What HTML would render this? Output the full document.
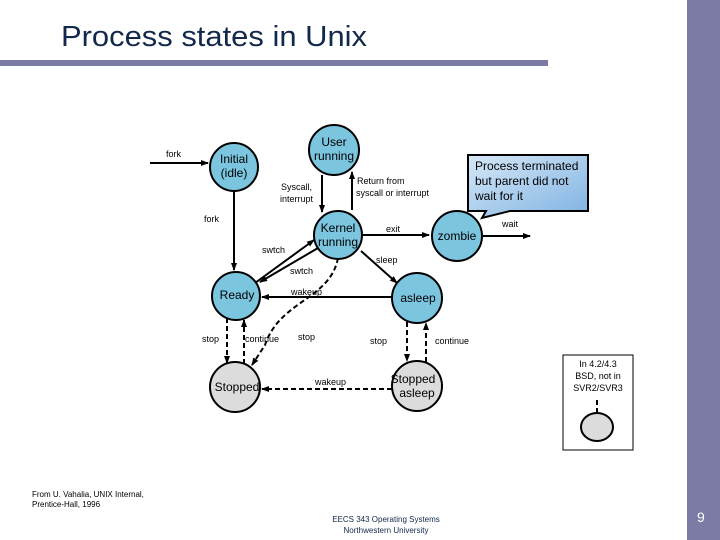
<!DOCTYPE html>
<html><head><meta charset="utf-8"><style>
html,body{margin:0;padding:0;background:#fff;width:720px;height:540px;overflow:hidden}
svg{display:block}
text{font-family:"Liberation Sans",sans-serif}
</style></head><body>
<svg width="720" height="540" viewBox="0 0 720 540">
<defs>
<marker id="a" markerWidth="8" markerHeight="8" refX="7" refY="4" orient="auto" markerUnits="userSpaceOnUse"><path d="M0,1 L8,4 L0,7 z" fill="#000"/></marker>
<linearGradient id="g" x1="0" y1="0" x2="1" y2="1"><stop offset="0" stop-color="#d6e8f7"/><stop offset="1" stop-color="#7fb2e2"/></linearGradient>
</defs>
<rect x="687" y="0" width="33" height="540" fill="#7b7ba6"/>
<rect x="0" y="60" width="548" height="6" fill="#7b7ba6"/>
<text x="61" y="46" font-size="29" fill="#13294b" font-family="DejaVu Sans Condensed, Liberation Sans, sans-serif" textLength="306" lengthAdjust="spacingAndGlyphs">Process states in Unix</text>
<text x="697" y="522" font-size="14" fill="#fff">9</text>
<text x="32" y="497" font-size="8" fill="#000">From U. Vahalia, UNIX Internal,</text>
<text x="32" y="507" font-size="8" fill="#000">Prentice-Hall, 1996</text>
<text x="386" y="522" font-size="8" fill="#13294b" text-anchor="middle">EECS 343 Operating Systems</text>
<text x="386" y="533" font-size="8" fill="#13294b" text-anchor="middle">Northwestern University</text>

<g stroke="#000" stroke-width="2" fill="none">
<line x1="150" y1="163" x2="208" y2="163" marker-end="url(#a)"/>
<line x1="234" y1="191" x2="234" y2="270" marker-end="url(#a)"/>
<line x1="322" y1="175" x2="322" y2="212" marker-end="url(#a)"/>
<line x1="352" y1="210" x2="352" y2="172" marker-end="url(#a)"/>
<line x1="255" y1="283" x2="314" y2="240" marker-end="url(#a)"/>
<line x1="318" y1="248" x2="260" y2="282" marker-end="url(#a)"/>
<line x1="362" y1="235" x2="429" y2="235" marker-end="url(#a)"/>
<line x1="483" y1="236" x2="530" y2="236" marker-end="url(#a)"/>
<line x1="361" y1="251" x2="397" y2="283" marker-end="url(#a)"/>
<line x1="392" y1="297" x2="262" y2="297" marker-end="url(#a)"/>
</g>
<g stroke="#000" stroke-width="2" fill="none" stroke-dasharray="5,3">
<path d="M338,258 C330,300 280,300 265,345 L252,365" marker-end="url(#a)"/>
<line x1="227" y1="318" x2="227" y2="363" marker-end="url(#a)"/>
<line x1="244" y1="364" x2="244" y2="320" marker-end="url(#a)"/>
<line x1="407" y1="322" x2="407" y2="361" marker-end="url(#a)"/>
<line x1="426" y1="362" x2="426" y2="323" marker-end="url(#a)"/>
<line x1="392" y1="389" x2="262" y2="389" marker-end="url(#a)"/>
<line x1="597" y1="400" x2="597" y2="412"/>
</g>
<g stroke="#000" stroke-width="2" fill="#7cc5df">
<circle cx="234" cy="167" r="24"/>
<circle cx="334" cy="150" r="25"/>
<circle cx="338" cy="235" r="24"/>
<circle cx="457" cy="236" r="25"/>
<circle cx="236" cy="296" r="24"/>
<circle cx="417" cy="298" r="25"/>
</g>
<g stroke="#000" stroke-width="2" fill="#dcdcdc">
<circle cx="235" cy="387" r="25"/>
<circle cx="417" cy="386" r="25"/>
<ellipse cx="597" cy="427" rx="16" ry="14"/>
</g>
<rect x="563" y="355" width="70" height="95" fill="none" stroke="#000" stroke-width="1"/>
<path d="M468,155 H588 V211 H510 L482,218 L486,211 H468 Z" fill="url(#g)" stroke="#000" stroke-width="2"/>

<g font-size="12" fill="#000" text-anchor="middle">
<text x="234" y="163">Initial</text><text x="234" y="177">(idle)</text>
<text x="334" y="146">User</text><text x="334" y="160">running</text>
<text x="338" y="232">Kernel</text><text x="338" y="246">running</text>
<text x="457" y="240">zombie</text>
<text x="237" y="299">Ready</text>
<text x="418" y="302">asleep</text>
<text x="237" y="391">Stopped</text>
<text x="413" y="383">Stopped</text><text x="417" y="397">asleep</text>
</g>
<g font-size="12" fill="#000">
<text x="475" y="170">Process terminated</text>
<text x="475" y="185">but parent did not</text>
<text x="475" y="200">wait for it</text>
</g>
<g font-size="9" fill="#000">
<text x="166" y="157">fork</text>
<text x="204" y="222">fork</text>
<text x="281" y="190">Syscall,</text>
<text x="280" y="202">interrupt</text>
<text x="357" y="184">Return from</text>
<text x="356" y="196">syscall or interrupt</text>
<text x="386" y="232">exit</text>
<text x="502" y="227">wait</text>
<text x="262" y="253">swtch</text>
<text x="290" y="274">swtch</text>
<text x="376" y="263">sleep</text>
<text x="291" y="295">wakeup</text>
<text x="202" y="342">stop</text>
<text x="245" y="342">continue</text>
<text x="298" y="340">stop</text>
<text x="370" y="344">stop</text>
<text x="435" y="344">continue</text>
<text x="315" y="385">wakeup</text>
</g>
<g font-size="9" fill="#000" text-anchor="middle">
<text x="598" y="367">In 4.2/4.3</text>
<text x="598" y="379">BSD, not in</text>
<text x="598" y="391">SVR2/SVR3</text>
</g>
</svg>
</body></html>
